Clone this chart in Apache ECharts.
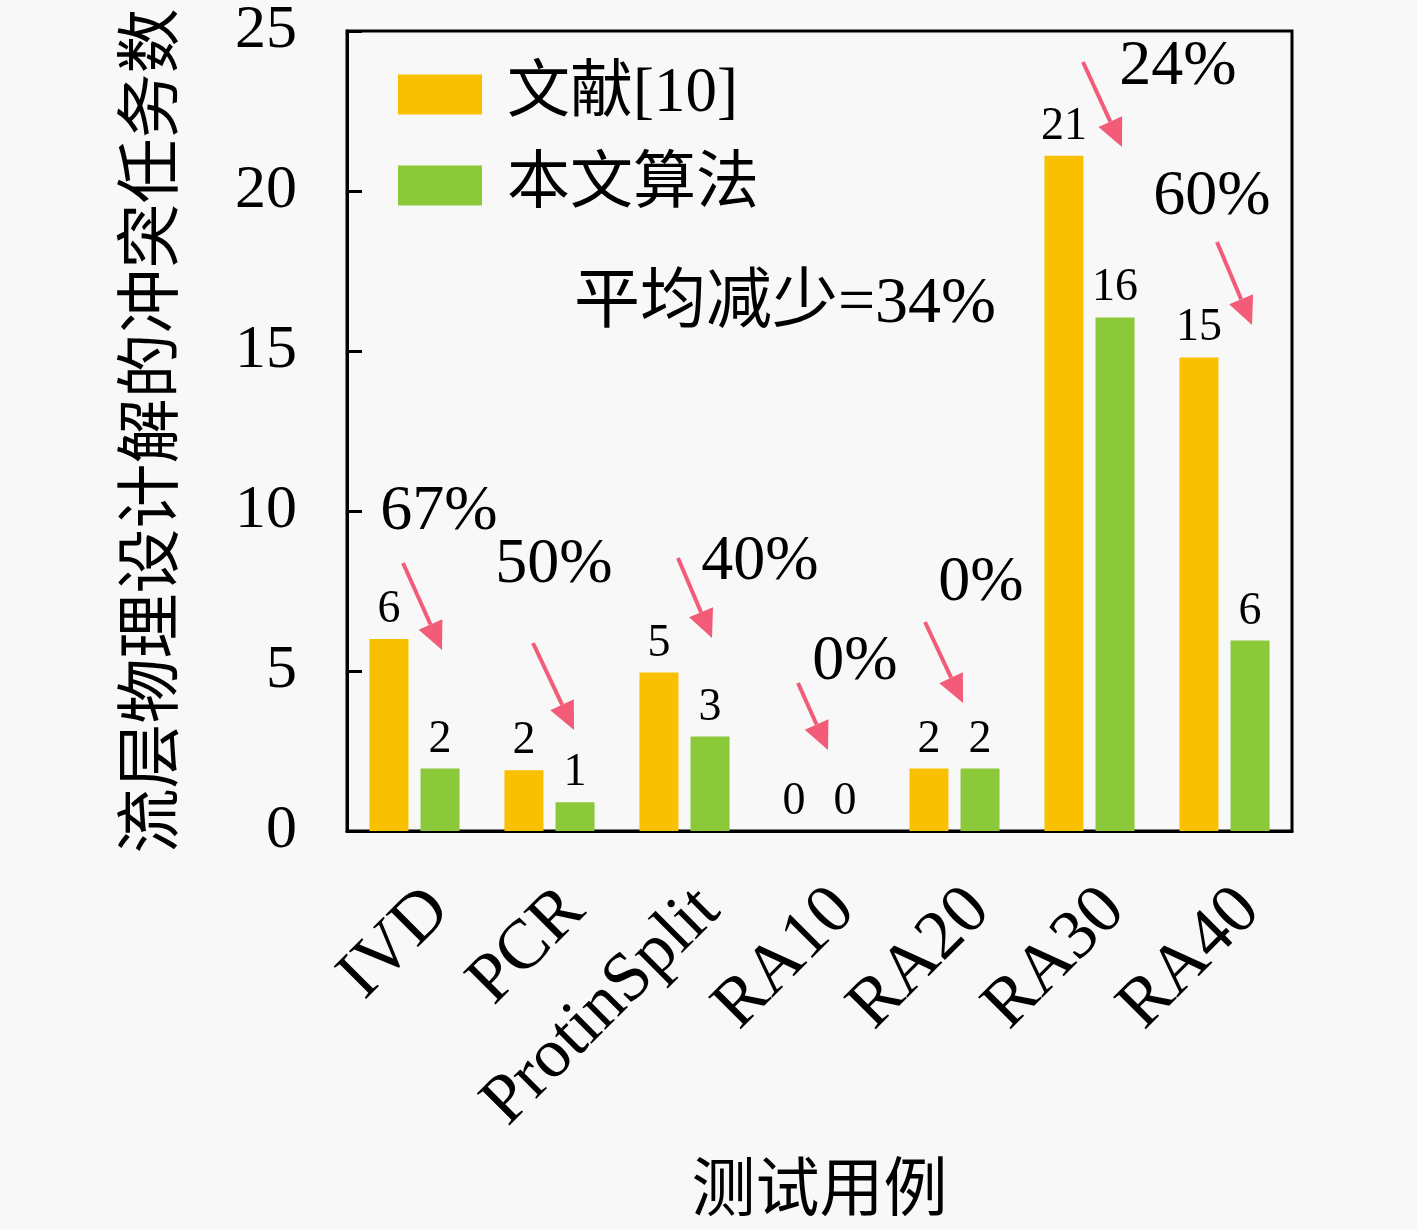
<!DOCTYPE html>
<html>
<head>
<meta charset="utf-8">
<script src="https://cdn.jsdelivr.net/npm/echarts@6/dist/echarts.min.js"></script>
<style>
  html, body { margin: 0; padding: 0; background: #f8f8f8; }
  #chart { width: 1417px; height: 1230px; }
</style>
</head>
<body>
<div id="chart"></div>
<script>
var categories = ['IVD', 'PCR', 'ProtinSplit', 'RA10', 'RA20', 'RA30', 'RA40'];
var seriesNames = ['文献[10]', '本文算法'];
var refValues = [6, 1.9, 4.95, 0, 1.95, 21.1, 14.8];
var oursValues = [1.95, 0.9, 2.95, 0, 1.95, 16.05, 5.95];
var yTicks = [0, 5, 10, 15, 20, 25];

// reduction notes with their arrows (pixel positions)
var notes = [
    { text: '67%', x: 439, y: 512, from: [403, 563], to: [442, 650] },
    { text: '50%', x: 554, y: 565, from: [533, 643], to: [574, 730] },
    { text: '40%', x: 760, y: 562, from: [678, 558], to: [712, 638] },
    { text: '0%', x: 855, y: 662, from: [798, 683], to: [828, 750] },
    { text: '0%', x: 981, y: 583, from: [925, 622], to: [963, 703] },
    { text: '24%', x: 1178, y: 67, from: [1083, 62], to: [1122, 147] },
    { text: '60%', x: 1212, y: 197, from: [1217, 242], to: [1252, 325] }
];
var avgNote = '平均减少=34%';

var serif = '"Liberation Serif", "Noto Sans CJK SC", serif';
var arrowColor = '#f25c78';

function arrow(p0, p1) {
    var dx = p1[0] - p0[0], dy = p1[1] - p0[1];
    var len = Math.sqrt(dx * dx + dy * dy);
    var ux = dx / len, uy = dy / len;
    var head = 28, half = 13;
    var bx = p1[0] - ux * head, by = p1[1] - uy * head;
    return [{
        type: 'line',
        shape: { x1: p0[0], y1: p0[1], x2: bx, y2: by },
        style: { stroke: arrowColor, lineWidth: 4 }
    }, {
        type: 'polygon',
        shape: { points: [[p1[0], p1[1]], [bx - uy * half, by + ux * half], [bx + uy * half, by - ux * half]] },
        style: { fill: arrowColor }
    }];
}

var graphics = [];
notes.forEach(function(n) {
    graphics.push({
        type: 'text', x: n.x, y: n.y,
        style: { text: n.text, font: '64px ' + serif, fill: '#000', align: 'center', verticalAlign: 'middle' }
    });
    graphics = graphics.concat(arrow(n.from, n.to));
});
graphics.push({
    type: 'text', x: 785, y: 305,
    style: { text: avgNote, font: '66px ' + serif, fill: '#000', align: 'center', verticalAlign: 'middle' }
});

var barLabel = {
    show: true,
    position: 'top',
    distance: 6,
    fontFamily: serif,
    fontSize: 46,
    color: '#000',
    formatter: function(p) { return Math.round(p.value); }
};

var chart = echarts.init(document.getElementById('chart'));
chart.setOption({
    backgroundColor: '#f8f8f8',
    animation: false,
    grid: {
        left: 347, right: 125, top: 29, bottom: 399,
        show: true, borderColor: '#000', borderWidth: 3, backgroundColor: 'transparent'
    },
    legend: {
        orient: 'vertical',
        left: 393, top: 58,
        itemWidth: 84, itemHeight: 40, itemGap: 28,
        icon: 'rect',
        data: seriesNames,
        textStyle: { fontFamily: serif, fontSize: 63, color: '#000', padding: [0, 0, 0, 20], lineHeight: 48 }
    },
    xAxis: {
        type: 'category',
        data: categories,
        name: '测试用例',
        nameLocation: 'middle',
        nameGap: 330,
        nameTextStyle: { fontFamily: serif, fontSize: 64, color: '#000' },
        axisLine: { lineStyle: { color: '#000', width: 3 } },
        axisTick: { inside: true, length: 14, lineStyle: { color: '#000', width: 3 } },
        axisLabel: { rotate: 45, margin: 44, verticalAlign: 'top', fontFamily: serif, fontSize: 70, color: '#000' }
    },
    yAxis: {
        type: 'value',
        min: yTicks[0], max: yTicks[yTicks.length - 1], interval: yTicks[1] - yTicks[0],
        name: '流层物理设计解的冲突任务数',
        nameLocation: 'middle',
        nameGap: 160,
        nameTextStyle: { fontFamily: serif, fontSize: 65, color: '#000' },
        splitLine: { show: false },
        axisLine: { show: true, lineStyle: { color: '#000', width: 3 } },
        axisTick: { show: true, inside: true, length: 15, lineStyle: { color: '#000', width: 3 } },
        axisLabel: { margin: 50, fontFamily: serif, fontSize: 62, color: '#000' }
    },
    series: [{
        name: seriesNames[0],
        type: 'bar',
        data: refValues,
        barWidth: 39,
        barGap: '31%',
        itemStyle: { color: '#f9c000' },
        label: barLabel
    }, {
        name: seriesNames[1],
        type: 'bar',
        data: oursValues,
        barWidth: 39,
        itemStyle: { color: '#8bc83a' },
        label: barLabel
    }],
    graphic: graphics
});
</script>
</body>
</html>
